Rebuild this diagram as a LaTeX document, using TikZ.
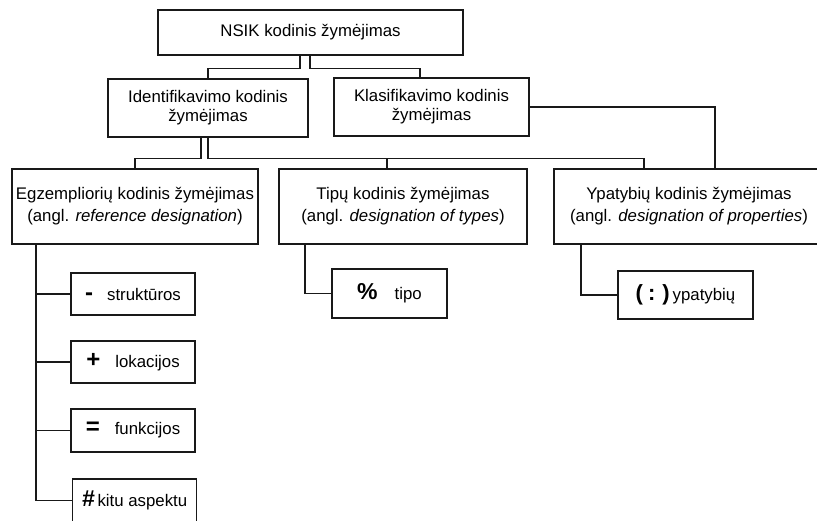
\documentclass[tikz,border=0pt]{standalone}
\usepackage{fontspec}
\setmainfont{Liberation Sans}
\newcommand\symb[2][22]{{\fontsize{#1}{#1}\selectfont\bfseries #2}}
\begin{document}
\begin{tikzpicture}[x=1pt,y=-1pt,
  box/.style={draw=black!90, line width=1.3pt, inner sep=0pt, align=center,
    font=\fontsize{16.8}{19}\selectfont},
  widebox/.style={box, font=\fontsize{16.8}{22}\selectfont},
  link/.style={draw=black!90, line width=1.2pt},
]
\useasboundingbox (0,0) rectangle (817,521);
\clip (0,0) rectangle (817,521);

% upper levels
\node[box, minimum width=305, minimum height=45] (top) at (310.5,32.5) {NSIK kodinis žymėjimas};
\node[box, minimum width=200, minimum height=58] (ident) at (208,108) {Identifikavimo kodinis\\žymėjimas};
\node[box, minimum width=195, minimum height=58] (klas) at (431.5,107) {Klasifikavimo kodinis\\žymėjimas};

% designation kinds
\node[widebox, minimum width=246, minimum height=75] (egz) at (135,206.5)
  {Egzempliorių kodinis žymėjimas\\(angl. \textit{reference designation})};
\node[widebox, minimum width=248, minimum height=75] (tip) at (403,206.5)
  {Tipų kodinis žymėjimas\\(angl. \textit{designation of types})};
\node[widebox, minimum width=270, minimum height=75] (ypa) at (689,206.5)
  {Ypatybių kodinis žymėjimas\\(angl. \textit{designation of properties})};

% prefix boxes
\node[box, minimum width=115, minimum height=49] (tipo) at (389.5,293.5)
  {\symb[23]{\%}\hspace{17pt}tipo};
\node[box, minimum width=135, minimum height=48] (ypsub) at (685.5,295)
  {\symb[22]{(\hspace{5pt}:\hspace{7pt})}\hspace{3pt}ypatybių};
\node[box, minimum width=124, minimum height=42] (strukt) at (133,294)
  {\symb[24]{-}\hspace{14pt}struktūros};
\node[box, minimum width=124, minimum height=42] (lok) at (133,362)
  {\symb[24]{+}\hspace{15pt}lokacijos};
\node[box, minimum width=124, minimum height=43] (funk) at (133,430.5)
  {\symb[24]{=}\hspace{15pt}funkcijos};
\node[box, minimum width=124, minimum height=43] (kitu) at (134.5,500.5)
  {\symb[23]{\textit{\#}}\hspace{3pt}kitu aspektu};

% connectors between levels
\draw[link] ([xshift=-10.5pt]top.south) -- ++(0,12.5) -| (ident.north);
\draw[link] ([xshift=-0.5pt]top.south) -- ++(0,12.5) -| ([xshift=-11.5pt]klas.north);
\draw[link] ([xshift=-7pt]ident.south) -- ++(0,21) -| (egz.north);
\draw[link] (ident.south) -- ++(0,21) coordinate (j) -| ([xshift=-45pt]ypa.north);
\draw[link] ([xshift=-16pt]tip.north) |- (j);
\draw[link] (klas.east) -| ([xshift=26pt]ypa.north);

% prefix links
\coordinate (trunk) at ([xshift=-99pt]egz.south);
\draw[link] (trunk) |- (kitu.west);
\draw[link] (strukt.west) -- (strukt.west -| trunk);
\draw[link] (lok.west) -- (lok.west -| trunk);
\draw[link] (funk.west) -- (funk.west -| trunk);
\draw[link] ([xshift=-98pt]tip.south) |- (tipo.west);
\draw[link] ([xshift=-108pt]ypa.south) |- (ypsub.west);
\end{tikzpicture}
\end{document}
